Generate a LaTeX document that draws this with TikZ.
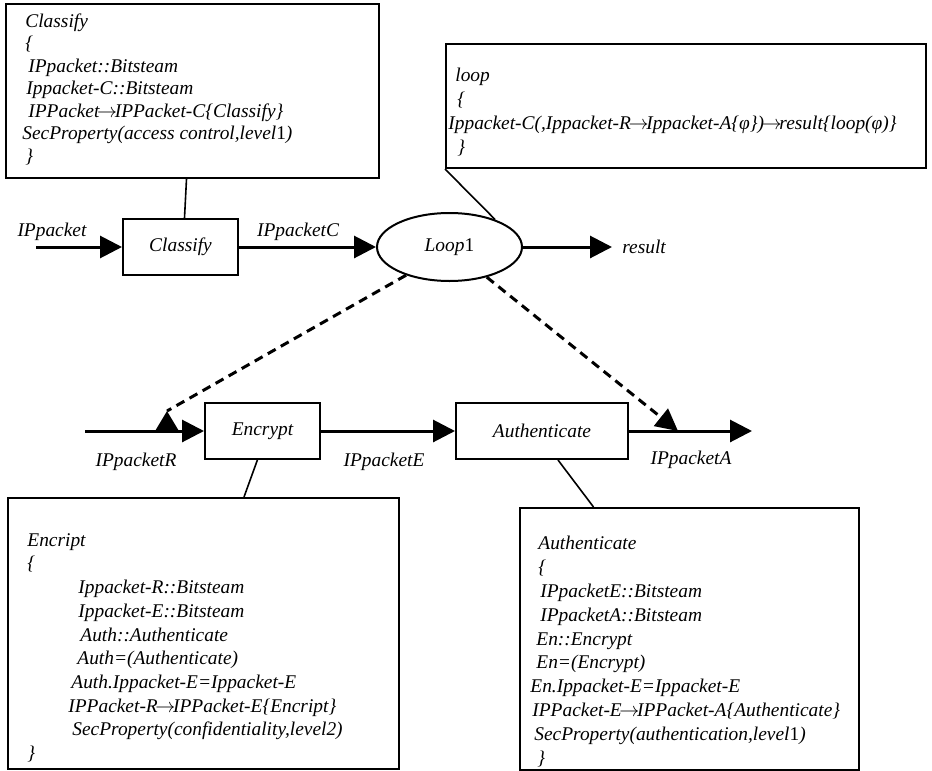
\documentclass[tikz,border=0pt]{standalone}
\usepackage{fontspec}
\setmainfont{Liberation Serif}
\usetikzlibrary{arrows.meta,positioning,shapes.geometric}
\newcommand{\flowto}{\kern-0.12em\ensuremath{\rightarrow}\kern-0.12em}

\begin{document}
\begin{tikzpicture}[
  x=0.5pt,y=-0.5pt,
  every node/.style={font=\fontsize{9.7}{11.8}\selectfont\itshape},
  procbox/.style={draw,line width=1pt,minimum width=57.5pt,minimum height=28pt,inner sep=0pt},
  loopnode/.style={draw,ellipse,line width=1pt,minimum width=72.5pt,minimum height=34pt,inner sep=0pt},
  specbox/.style={draw,line width=1pt,anchor=north west,inner sep=0pt},
  spectext/.style={anchor=north west,align=left,inner sep=0pt,font=\fontsize{9.7}{#1}\selectfont\itshape},
  spectext/.default=11.8pt,
  flowlabel/.style={inner sep=0pt},
  arrow/.style={-{Triangle[length=11pt,width=11pt]},line width=1.5pt},
  dasharrow/.style={arrow,dash pattern=on 4.5pt off 3pt},
  link/.style={line width=0.8pt}
]
\useasboundingbox (0,0) rectangle (932,771);

% specification boxes
\node[specbox,minimum width=186.5pt,minimum height=87pt] (clsbox) at (5,3) {};
\node[specbox,minimum width=240pt,minimum height=62pt] (loopbox) at (445,43) {};
\node[specbox,minimum width=195.5pt,minimum height=135.5pt] (encbox) at (7,497) {};
\node[specbox,minimum width=169.5pt,minimum height=131pt] (authbox) at (519,507) {};

\node[spectext=11.25pt] (clstext) at (22,13) {\hspace*{1.5pt}Classify\\
\hspace*{1.5pt}\{\\
\hspace*{3pt}IPpacket::Bitsteam\\
\hspace*{2pt}Ippacket-C::Bitsteam\\
\hspace*{3pt}IPPacket\flowto IPPacket-C\{Classify\}\\
SecProperty(access control,level\textup{1})\\
\hspace*{1.5pt}\}};
\node[spectext=12pt] (looptext) at (448,68) {\hspace*{3.5pt}loop\\
\hspace*{4.5pt}\{\\
Ippacket-C(,Ippacket-R\flowto Ippacket-A\{φ\})\flowto result\{loop(φ)\}\\
\hspace*{4.5pt}\}};
\node[spectext=11.85pt] (enctext) at (27,533) {Encript\\
\{\\
\hspace*{25.5pt}Ippacket-R::Bitsteam\\
\hspace*{25.5pt}Ippacket-E::Bitsteam\\
\hspace*{26.5pt}Auth::Authenticate\\
\hspace*{25pt}Auth=(Authenticate)\\
\hspace*{22pt}Auth.Ippacket-E=Ippacket-E\\
\hspace*{20.5pt}IPPacket-R\flowto IPPacket-E\{Encript\}\\
\hspace*{22.5pt}SecProperty(confidentiality,level2)\\
\}};
\node[spectext=11.9pt] (authtext) at (530,536) {\hspace*{4pt}Authenticate\\
\hspace*{4pt}\{\\
\hspace*{5pt}IPpacketE::Bitsteam\\
\hspace*{5pt}IPpacketA::Bitsteam\\
\hspace*{3pt}En::Encrypt\\
\hspace*{3pt}En=(Encrypt)\\
En.Ippacket-E=Ippacket-E\\
\hspace*{1pt}IPPacket-E\flowto IPPacket-A\{Authenticate\}\\
\hspace*{2pt}SecProperty(authentication,level\textup{1})\\
\hspace*{3.5pt}\}};

% process chain
\node[procbox] (classify) at (180.5,247) {Classify};
\node[loopnode] (loop1) at (449.5,247) {Loop\textup{1}};
\node[procbox] (encrypt) at (262.5,431) {Encrypt};
\node[procbox,minimum width=86pt] (auth) at (542,431) {Authenticate};

\coordinate (pin) at (36,247);
\coordinate (rin) at (85,431);
\coordinate (aout) at (752,431);
\coordinate (rtip) at (167,411);
\coordinate (rbase) at (167,431);
\coordinate (atip) at (678,431);

\node[flowlabel] (lblin) at (52,232) {IPpacket};
\node[flowlabel] (lblc) at (298,232) {IPpacketC};
\node[flowlabel,anchor=west,inner xsep=5pt] (result) at (612,247) {result};
\node[flowlabel] (lblr) at (136,462) {IPpacketR};
\node[flowlabel] (lble) at (384,462) {IPpacketE};
\node[flowlabel] (lbla) at (691,460) {IPpacketA};

\foreach \x/\y in {pin/classify,classify/loop1,loop1/result,rin/encrypt,encrypt/auth,auth/aout} \draw[arrow] (\x) -- (\y);
\draw[dasharrow,-] (loop1.213) -- (rtip);
\draw[arrow,-{Triangle[length=10pt,width=11.5pt]}] (rbase) -- (rtip);
\draw[dasharrow] (loop1.321) -- (atip);

% links to the specifications
\draw[link] ([xshift=2pt]classify.north) -- ([xshift=-3pt]clsbox.south);
\draw[link] (loop1.31) -- (loopbox.south west);
\draw[link] (encrypt.260) -- ([xshift=20.25pt]encbox.north);
\draw[link] ([xshift=8pt]auth.south) -- ([xshift=-48pt]authbox.north);
\end{tikzpicture}
\end{document}
